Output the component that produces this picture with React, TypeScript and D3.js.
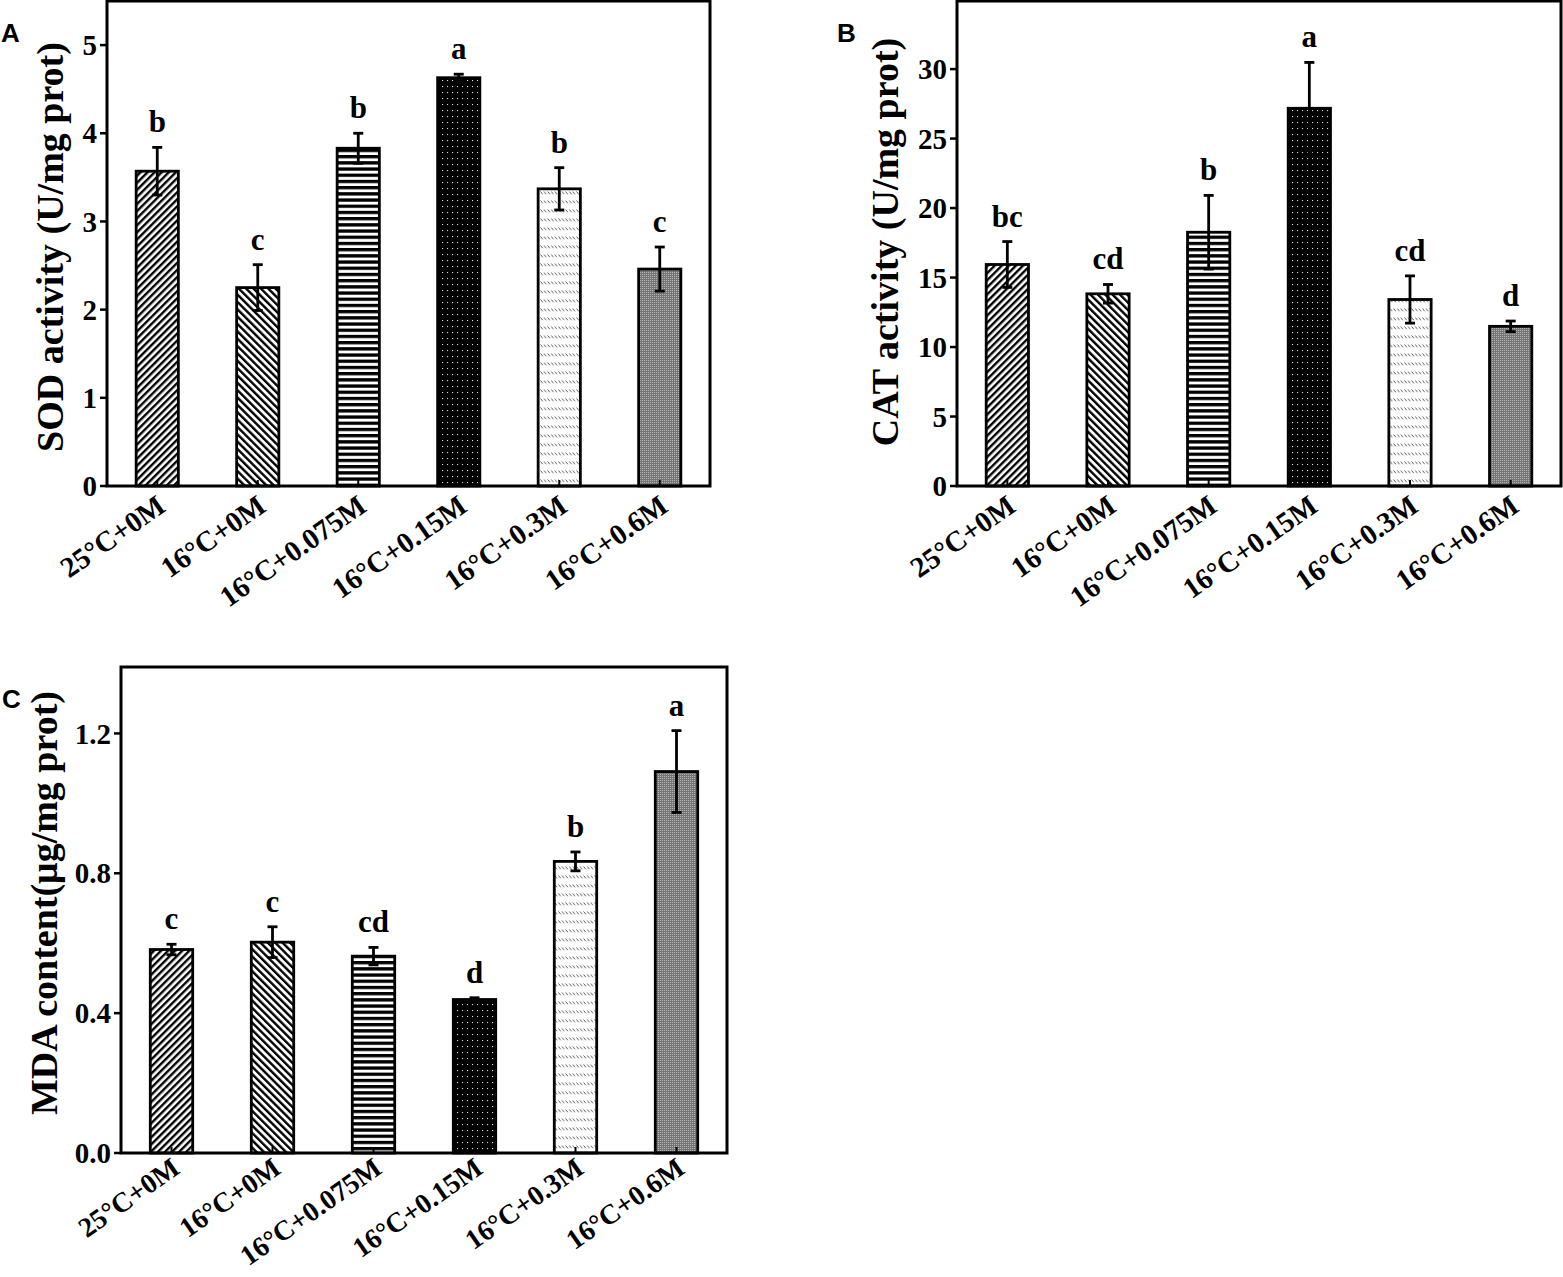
import * as d3 from "d3";
import { useEffect, useRef } from "react";

// treatment groups (x axis)
const groups = ["25°C+0M", "16°C+0M", "16°C+0.075M", "16°C+0.15M", "16°C+0.3M", "16°C+0.6M"];

// A: SOD activity
const sodMean = [3.57, 2.25, 3.83, 4.63, 3.37, 2.46];
const sodErr = [0.27, 0.26, 0.17, 0.04, 0.24, 0.25];
const sodLetters = ["b", "c", "b", "a", "b", "c"];
const sodTicks = [0, 1, 2, 3, 4, 5];

// B: CAT activity
const catMean = [15.94, 13.83, 18.26, 27.18, 13.42, 11.49];
const catErr = [1.65, 0.67, 2.65, 3.3, 1.7, 0.38];
const catLetters = ["bc", "cd", "b", "a", "cd", "d"];
const catTicks = [0, 5, 10, 15, 20, 25, 30];

// C: MDA content
const mdaMean = [0.582, 0.603, 0.563, 0.439, 0.834, 1.091];
const mdaErr = [0.015, 0.044, 0.025, 0.005, 0.027, 0.117];
const mdaLetters = ["c", "c", "cd", "d", "b", "a"];
const mdaTicks = [0, 0.4, 0.8, 1.2];

const serif = "'Liberation Serif', 'Times New Roman', serif";
const sans = "'Liberation Sans', Arial, sans-serif";

const fills = ["url(#p-fwd)", "url(#p-back)", "url(#p-horiz)", "url(#p-dots)", "url(#p-dash)", "url(#p-gray)"];

function addPatterns(defs: any) {
  // "///"
  const fwd = defs.append("pattern").attr("id", "p-fwd").attr("patternUnits", "userSpaceOnUse")
    .attr("width", 5).attr("height", 10).attr("patternTransform", "rotate(45)");
  fwd.append("rect").attr("width", 5).attr("height", 10).attr("fill", "#fff");
  fwd.append("rect").attr("width", 2.4).attr("height", 10).attr("fill", "#000");
  // "\\\"
  const back = defs.append("pattern").attr("id", "p-back").attr("patternUnits", "userSpaceOnUse")
    .attr("width", 5.2).attr("height", 10).attr("patternTransform", "rotate(-45)");
  back.append("rect").attr("width", 5.2).attr("height", 10).attr("fill", "#fff");
  back.append("rect").attr("width", 2.4).attr("height", 10).attr("fill", "#000");
  // horizontal lines
  const hz = defs.append("pattern").attr("id", "p-horiz").attr("patternUnits", "userSpaceOnUse")
    .attr("width", 10).attr("height", 6.2);
  hz.append("rect").attr("width", 10).attr("height", 6.2).attr("fill", "#fff");
  hz.append("rect").attr("width", 10).attr("height", 3.3).attr("fill", "#000");
  // black with white dots
  const dots = defs.append("pattern").attr("id", "p-dots").attr("patternUnits", "userSpaceOnUse")
    .attr("width", 5).attr("height", 6);
  dots.append("rect").attr("width", 5).attr("height", 6).attr("fill", "#000");
  dots.append("rect").attr("x", 2).attr("y", 2).attr("width", 1.1).attr("height", 1.1).attr("fill", "#ddd");
  // small back-slash dashes in rows
  const dash = defs.append("pattern").attr("id", "p-dash").attr("patternUnits", "userSpaceOnUse")
    .attr("width", 3.6).attr("height", 9);
  dash.append("rect").attr("width", 3.6).attr("height", 9).attr("fill", "#fff");
  dash.append("line").attr("x1", 0.5).attr("y1", 2.5).attr("x2", 2.6).attr("y2", 5.3)
    .attr("stroke", "#444").attr("stroke-width", 0.9);
  // gray stipple
  const gray = defs.append("pattern").attr("id", "p-gray").attr("patternUnits", "userSpaceOnUse")
    .attr("width", 2).attr("height", 2);
  gray.append("rect").attr("width", 2).attr("height", 2).attr("fill", "#757575");
  gray.append("rect").attr("width", 1).attr("height", 1).attr("fill", "#b4b4b4");
}

interface PanelOpts {
  left: number;
  top: number;
  width: number;
  height: number;
  yMax: number;
  ticks: number[];
  fmt: (v: number) => string;
  mean: number[];
  err: number[];
  letters: string[];
  title: string;
  titleX: number;
  titleY: number;
  tag: string;
  tagX: number;
  tagY: number;
  labelDy: number;
  labelSize: number;
}

function drawPanel(svg: any, o: PanelOpts) {
  const bottom = o.top + o.height;
  const x = d3.scaleBand().domain(groups).range([o.left, o.left + o.width]).paddingInner(0.58).paddingOuter(0.29);
  const y = d3.scaleLinear().domain([0, o.yMax]).range([bottom, o.top]);
  const g = svg.append("g");

  // bars
  g.selectAll("rect.bar").data(groups).enter().append("rect")
    .attr("x", (d: string) => x(d))
    .attr("y", (_: string, i: number) => y(o.mean[i]))
    .attr("width", x.bandwidth())
    .attr("height", (_: string, i: number) => bottom - y(o.mean[i]))
    .attr("fill", (_: string, i: number) => fills[i])
    .attr("stroke", "#000").attr("stroke-width", 2.8);

  // inward x ticks
  g.selectAll("line.xt").data(groups).enter().append("line")
    .attr("x1", (d: string) => x(d)! + x.bandwidth() / 2)
    .attr("x2", (d: string) => x(d)! + x.bandwidth() / 2)
    .attr("y1", bottom).attr("y2", bottom - 6)
    .attr("stroke", "#000").attr("stroke-width", 2);

  // error bars, letters, x labels
  groups.forEach((d, i) => {
    const cx = x(d)! + x.bandwidth() / 2;
    const hi = y(o.mean[i] + o.err[i]);
    const lo = y(o.mean[i] - o.err[i]);
    g.append("line").attr("x1", cx).attr("x2", cx).attr("y1", hi).attr("y2", lo)
      .attr("stroke", "#000").attr("stroke-width", 2.8);
    [hi, lo].forEach((yy) => {
      g.append("line").attr("x1", cx - 5).attr("x2", cx + 5).attr("y1", yy).attr("y2", yy)
        .attr("stroke", "#000").attr("stroke-width", 2.8);
    });
    g.append("text").attr("x", cx).attr("y", hi - 15)
      .attr("text-anchor", "middle").attr("font-family", serif).attr("font-weight", "bold")
      .attr("font-size", 31).text(o.letters[i]);
    g.append("text")
      .attr("transform", `translate(${cx + 10},${bottom + o.labelDy}) rotate(-35)`)
      .attr("text-anchor", "end").attr("font-family", serif).attr("font-weight", "bold")
      .attr("font-size", o.labelSize).text(d);
  });

  // y ticks
  o.ticks.forEach((t) => {
    g.append("line").attr("x1", o.left - 7).attr("x2", o.left).attr("y1", y(t)).attr("y2", y(t))
      .attr("stroke", "#000").attr("stroke-width", 2.5);
    g.append("text").attr("x", o.left - 10).attr("y", y(t)).attr("dy", "0.35em")
      .attr("text-anchor", "end").attr("font-family", serif).attr("font-weight", "bold")
      .attr("font-size", 29).text(o.fmt(t));
  });

  // frame
  g.append("rect").attr("x", o.left).attr("y", o.top).attr("width", o.width).attr("height", o.height)
    .attr("fill", "none").attr("stroke", "#000").attr("stroke-width", 3);

  // axis title
  g.append("text").attr("transform", `translate(${o.titleX},${o.titleY}) rotate(-90)`)
    .attr("text-anchor", "middle").attr("font-family", serif).attr("font-weight", "bold")
    .attr("font-size", 38).text(o.title);

  // panel tag
  g.append("text").attr("x", o.tagX).attr("y", o.tagY).attr("font-family", sans)
    .attr("font-weight", "bold").attr("font-size", 26).text(o.tag);
}

const App = () => {
  const svgRef = useRef(null);

  useEffect(() => {
    const svg = d3.select(svgRef.current);
    svg.selectAll("*").remove();
    addPatterns(svg.append("defs"));

    drawPanel(svg, {
      left: 107, top: 1, width: 603, height: 485, yMax: 5.5, ticks: sodTicks,
      fmt: d3.format("d"), mean: sodMean, err: sodErr, letters: sodLetters,
      title: "SOD activity (U/mg prot)", titleX: 63, titleY: 247, tag: "A", tagX: 1, tagY: 42,
      labelDy: 24, labelSize: 29,
    });
    drawPanel(svg, {
      left: 957, top: 1, width: 604, height: 485, yMax: 34.9, ticks: catTicks,
      fmt: d3.format("d"), mean: catMean, err: catErr, letters: catLetters,
      title: "CAT activity (U/mg prot)", titleX: 898, titleY: 242, tag: "B", tagX: 837, tagY: 42,
      labelDy: 24, labelSize: 29,
    });
    drawPanel(svg, {
      left: 121, top: 667, width: 606, height: 486, yMax: 1.39, ticks: mdaTicks,
      fmt: d3.format(".1f"), mean: mdaMean, err: mdaErr, letters: mdaLetters,
      title: "MDA content(μg/mg prot)", titleX: 57, titleY: 903, tag: "C", tagX: 2, tagY: 708,
      labelDy: 19, labelSize: 28,
    });
  }, []);

  return (
    <div style={{ position: "absolute", left: 0, top: 0 }}>
      <svg ref={svgRef} width={1563} height={1277} style={{ display: "block", background: "#fff" }}></svg>
    </div>
  );
};

export default App;
